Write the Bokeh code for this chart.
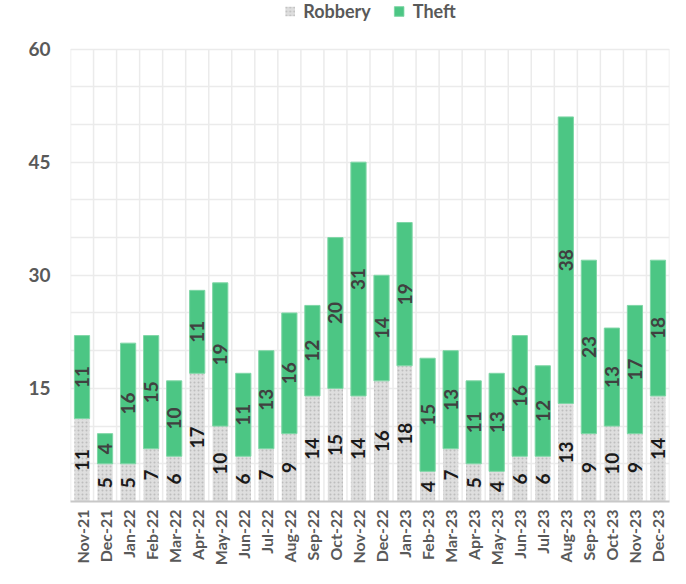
import math
from bokeh.plotting import figure
from bokeh.models import ColumnDataSource, FixedTicker, Range1d, Legend, LegendItem
from bokeh.core.properties import value
from bokeh.embed import file_html
from bokeh.resources import INLINE

months = ["Nov-21", "Dec-21", "Jan-22", "Feb-22", "Mar-22", "Apr-22", "May-22", "Jun-22",
          "Jul-22", "Aug-22", "Sep-22", "Oct-22", "Nov-22", "Dec-22", "Jan-23", "Feb-23",
          "Mar-23", "Apr-23", "May-23", "Jun-23", "Jul-23", "Aug-23", "Sep-23", "Oct-23",
          "Nov-23", "Dec-23"]
robbery = [11, 5, 5, 7, 6, 17, 10, 6, 7, 9, 14, 15, 14, 16, 18, 4, 7, 5, 4, 6, 6, 13, 9, 10, 9, 14]
theft = [11, 4, 16, 15, 10, 11, 19, 11, 13, 16, 12, 20, 31, 14, 19, 15, 13, 11, 13, 16, 12, 38, 23, 13, 17, 18]
y_labels = [15, 30, 45, 60]

FONT = "Lato"
n = len(months)
xs = list(range(n))
YMAX = 60
W, H = 670, 568
BORDER_B = 52
FRAME_H = H - BORDER_B
TOP_GAP = 50  # px between canvas top and the 60 gridline
y_end = YMAX * FRAME_H / (FRAME_H - TOP_GAP)

src = ColumnDataSource(dict(
    x=xs, robbery=robbery, theft=theft,
    rob_mid=[r / 2 for r in robbery],
    theft_mid=[r + t / 2 for r, t in zip(robbery, theft)],
    rob_txt=[str(v) for v in robbery],
    theft_txt=[str(v) for v in theft],
))

p = figure(width=W, height=H, output_backend="svg", toolbar_location=None,
           x_range=Range1d(-0.5, n - 0.5), y_range=Range1d(0, y_end),
           min_border_left=70, min_border_right=1, min_border_top=0, min_border_bottom=BORDER_B)
p.outline_line_color = None

# vertical grid lines between categories (only up to the top of the value axis)
bounds = [i - 0.5 for i in range(n + 1)]
p.segment(x0=bounds, x1=bounds, y0=[0] * len(bounds), y1=[YMAX] * len(bounds),
          line_color="#ebebeb", line_width=1.5)
p.xgrid.grid_line_color = None
p.ygrid.ticker = FixedTicker(ticks=list(range(5, YMAX + 1, 5)))
p.ygrid.grid_line_color = "#ebebeb"
p.ygrid.grid_line_width = 1.5

r_rob = p.vbar(x="x", top="robbery", bottom=0, width=0.66, source=src,
               fill_color="#dedede", line_color=None,
               hatch_pattern=".", hatch_color="#bdbdbd", hatch_scale=4, hatch_weight=1)
src2 = ColumnDataSource(dict(x=xs, bottom=robbery, top=[r + t for r, t in zip(robbery, theft)]))
r_theft = p.vbar(x="x", top="top", bottom="bottom", width=0.66, source=src2,
                 fill_color="#4cc684", line_color="#7fd6a6", line_width=1)

p.text(x="x", y="rob_mid", text="rob_txt", source=src, angle=math.pi / 2,
       text_align="center", text_baseline="middle", text_font=value(FONT),
       text_font_style="bold", text_font_size="19px", text_color="#1a1a1a")
p.text(x="x", y="theft_mid", text="theft_txt", source=src, angle=math.pi / 2,
       text_align="center", text_baseline="middle", text_font=value(FONT),
       text_font_style="bold", text_font_size="19px", text_color="#404040")

# axes
p.xaxis.ticker = FixedTicker(ticks=xs)
p.xaxis.major_label_overrides = {i: m for i, m in enumerate(months)}
p.xaxis.major_label_orientation = math.pi / 2
p.xaxis.major_label_text_font = FONT
p.xaxis.major_label_text_font_style = "bold"
p.xaxis.major_label_text_font_size = "16px"
p.xaxis.major_label_text_color = "#595959"
p.xaxis.axis_line_color = "#c8c8c8"
p.xaxis.axis_line_width = 2
p.xaxis.major_tick_line_color = None
p.xaxis.major_tick_out = 0
p.xaxis.minor_tick_line_color = None
p.xaxis.minor_tick_out = 0
p.xaxis.major_label_standoff = 8

p.yaxis.ticker = FixedTicker(ticks=y_labels)
p.yaxis.major_label_text_font = FONT
p.yaxis.major_label_text_font_style = "bold"
p.yaxis.major_label_text_font_size = "19px"
p.yaxis.major_label_text_color = "#595959"
p.yaxis.axis_line_color = None
p.yaxis.major_tick_line_color = None
p.yaxis.major_tick_out = 0
p.yaxis.minor_tick_line_color = None
p.yaxis.minor_tick_out = 0
p.yaxis.major_label_standoff = 20

legend = Legend(items=[LegendItem(label="Robbery", renderers=[r_rob]),
                       LegendItem(label="Theft", renderers=[r_theft])],
                orientation="horizontal", location="top_center",
                label_text_font=FONT, label_text_font_style="bold",
                label_text_font_size="18px", label_text_color="#595959",
                glyph_width=12, glyph_height=12, spacing=22, padding=0, margin=0,
                label_standoff=8, background_fill_alpha=0, border_line_color=None)
p.add_layout(legend, "center")

open("out.html", "w").write(file_html(p, INLINE))
